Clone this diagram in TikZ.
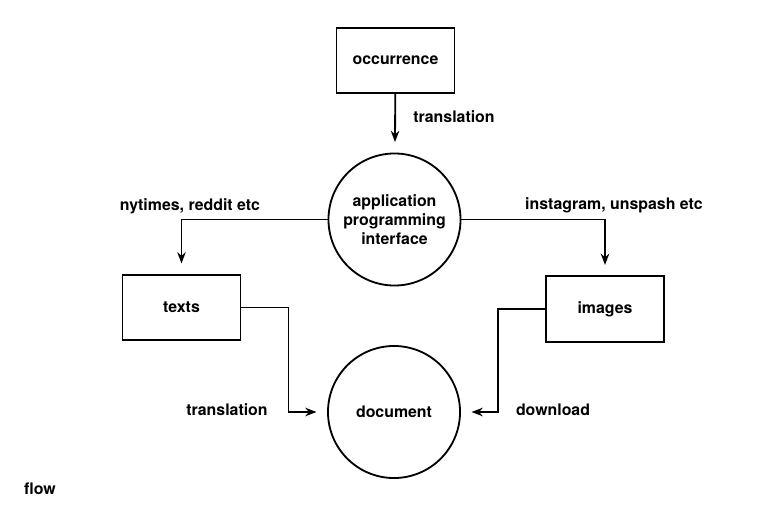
\documentclass[tikz,border=0pt]{standalone}
\usepackage{fontspec}
\setmainfont{TeX Gyre Heros}
\usetikzlibrary{arrows.meta}

\begin{document}
\begin{tikzpicture}[
    x=0.025cm, y=-0.025cm,
    box/.style={rectangle, draw, line width=1.3pt, minimum width=2.95cm, minimum height=1.63cm, align=center, font=\fontsize{11.3}{13.5}\selectfont\bfseries},
    bubble/.style={circle, draw, line width=1.3pt, minimum size=3.3cm, inner sep=0pt, align=center, font=\fontsize{11.3}{13.5}\selectfont\bfseries},
    lbl/.style={font=\fontsize{11.3}{13.5}\selectfont\bfseries},
    arrow/.style={-{Stealth[length=8pt,width=6pt]}, line width=1.3pt, shorten >=7.5pt}
]
\useasboundingbox (0,0) rectangle (768,512);

% Top: source and interface
\node[box] (occur) at (395.5,60.5) {occurrence};
\node[bubble] (api) at (394.5,219.5) {application\\programming\\interface};

% Middle row: results
\node[box] (texts) at (181.5,307.5) {texts};
\node[box] (images) at (605,309) {images};

% Bottom: output
\node[bubble] (doc) at (394,412) {document};

% Arrows - top
\draw[arrow] (occur) -- (api);
\node[lbl] (trans1) at (454,117) {translation};

% Arrows - interface to results
\draw[arrow] (api.west) -| (texts.north);
\node[lbl] (src1) at (190,206) {nytimes, reddit etc};
\draw[arrow] (api.east) -| (images.north);
\node[lbl] (src2) at (614,205) {instagram, unspash etc};

% Arrows - results to document
\draw[arrow] (texts.east) -- ++(47,0) |- (doc.west);
\node[lbl] (trans2) at (227,410) {translation};
\draw[arrow] (images.west) -- ++(-47,0) |- (doc.east);
\node[lbl] (down) at (553,410) {download};

% Caption
\node[lbl] (flow) at (40,489) {flow};

\end{tikzpicture}
\end{document}
